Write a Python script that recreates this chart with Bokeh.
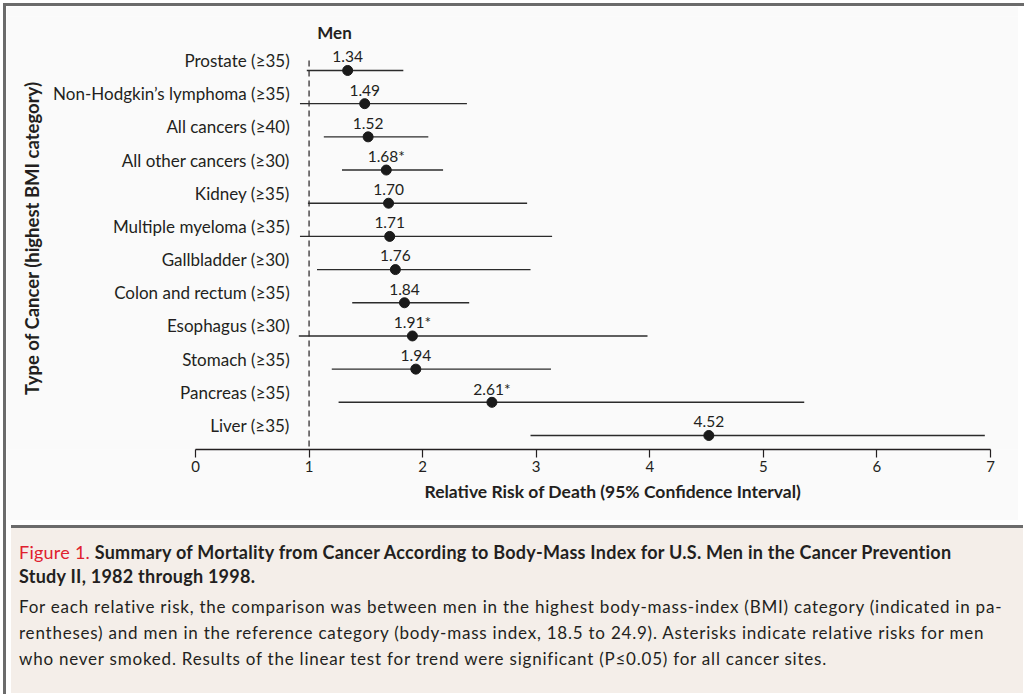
import math
from bokeh.plotting import figure
from bokeh.models import Range1d, FixedTicker, Div, ColumnDataSource, Title
from bokeh.layouts import column
from bokeh.core.properties import value
from bokeh.embed import file_html
from bokeh.resources import INLINE

categories = ["Prostate (≥35)", "Non-Hodgkin’s lymphoma (≥35)", "All cancers (≥40)",
              "All other cancers (≥30)", "Kidney (≥35)", "Multiple myeloma (≥35)",
              "Gallbladder (≥30)", "Colon and rectum (≥35)", "Esophagus (≥30)",
              "Stomach (≥35)", "Pancreas (≥35)", "Liver (≥35)"]
rr = [1.34, 1.49, 1.52, 1.68, 1.70, 1.71, 1.76, 1.84, 1.91, 1.94, 2.61, 4.52]
rr_labels = ["1.34", "1.49", "1.52", "1.68*", "1.70", "1.71", "1.76", "1.84",
             "1.91*", "1.94", "2.61*", "4.52"]
ci_low = [0.98, 0.92, 1.13, 1.29, 0.99, 0.92, 1.07, 1.38, 0.91, 1.20, 1.26, 2.95]
ci_high = [1.83, 2.39, 2.05, 2.18, 2.92, 3.14, 2.95, 2.41, 3.98, 3.13, 5.36, 6.95]
x_ticks = [0, 1, 2, 3, 4, 5, 6, 7]
reference_rr = 1.0

FONT = "Lato"
TXT = "#231f20"

rows = list(range(len(categories)))
src = ColumnDataSource(dict(
    y=rows, rr=rr, lo=ci_low, hi=ci_high, lab=rr_labels, cat=categories,
    y_lab=[r - 0.41 for r in rows], y_cat=[r - 0.30 for r in rows],
    x_cat=[0.83] * len(rows),
))

p = figure(width=1012, height=514, output_backend="svg", toolbar_location=None,
           x_range=Range1d(-1.664, 7.2466), y_range=Range1d(11.422, -1.627),
           min_border_left=0, min_border_right=0, min_border_top=10,
           min_border_bottom=71)
p.background_fill_color = "#fafafa"
p.border_fill_color = "#fafafa"
p.outline_line_color = None
p.grid.visible = False
p.yaxis.visible = False

ax = p.xaxis[0]
ax.bounds = (0, 7)
ax.ticker = FixedTicker(ticks=x_ticks)
ax.axis_line_color = TXT
ax.axis_line_width = 1.3
ax.major_tick_line_color = TXT
ax.major_tick_line_width = 1.2
ax.major_tick_in = 0
ax.major_tick_out = 8
ax.minor_tick_line_color = None
ax.major_label_standoff = 3
ax.major_label_text_font = FONT
ax.major_label_text_font_size = "15px"
ax.major_label_text_color = TXT

p.add_layout(Title(text="Relative Risk of Death (95% Confidence Interval)",
                   align="left", offset=418, standoff=9, text_font=FONT,
                   text_font_size="17.5px", text_font_style="bold",
                   text_color=TXT), "below")

# reference dashed line at RR = 1
p.segment(x0=[reference_rr], y0=[-0.3], x1=[reference_rr], y1=[11.422],
          line_color=TXT, line_width=1.2, line_dash="6 4")

# confidence intervals
p.segment(x0="lo", y0="y", x1="hi", y1="y", source=src, line_color="#2b2b2b",
          line_width=1.4)
p.scatter(x="rr", y="y", source=src, size=10, fill_color="#1a1a1a",
          line_color="#1a1a1a")

p.text(x="rr", y="y_lab", text="lab", source=src, text_align="center",
       text_baseline="middle", text_font=value(FONT), text_font_size="15.5px",
       text_color=TXT)
p.text(x="x_cat", y="y_cat", text="cat", source=src, text_align="right",
       text_baseline="middle", text_font=value(FONT), text_font_size="17px",
       text_color=TXT)

p.text(x=[-1.44], y=[5.05], text=["Type of Cancer (highest BMI category)"],
       angle=math.pi / 2, text_align="center", text_baseline="middle",
       text_font=value(FONT), text_font_size="18.5px", text_font_style="bold",
       text_color=TXT)
p.text(x=[1.224], y=[-1.145], text=["Men"], text_align="center",
       text_baseline="middle", text_font=value(FONT), text_font_size="17px",
       text_font_style="bold", text_color=TXT)

caption_html = (
    '<div style="font-family: Lato, sans-serif; color:#231f20;">'
    '<div style="font-size:18px; line-height:24px; font-weight:bold; letter-spacing:0.25px; white-space:nowrap;">'
    '<span style="color:#e0202e; font-weight:normal;">Figure 1.</span> '
    'Summary of Mortality from Cancer According to Body-Mass Index for U.S. Men in the Cancer Prevention<br>'
    'Study II, 1982 through 1998.</div>'
    '<div style="font-size:17px; line-height:26px; margin-top:6px; letter-spacing:0.78px; white-space:nowrap;">'
    'For each relative risk, the comparison was between men in the highest body-mass-index (BMI) category (indicated in pa-<br>'
    'rentheses) and men in the reference category (body-mass index, 18.5 to 24.9). Asterisks indicate relative risks for men<br>'
    'who never smoked. Results of the linear test for trend were significant (P≤0.05) for all cancer sites.'
    '</div></div>'
)
div = Div(text=caption_html, width=1012, height=168,
          styles={"background-color": "#f4eee9", "border-top": "3px solid #6b6b6b",
                  "box-sizing": "border-box", "padding": "12px 0 0 8px"})

layout = column(p, div, spacing=0,
                styles={"border": "3px solid #6b6b6b", "margin": "3px"})

open("out.html", "w").write(file_html(layout, INLINE))
